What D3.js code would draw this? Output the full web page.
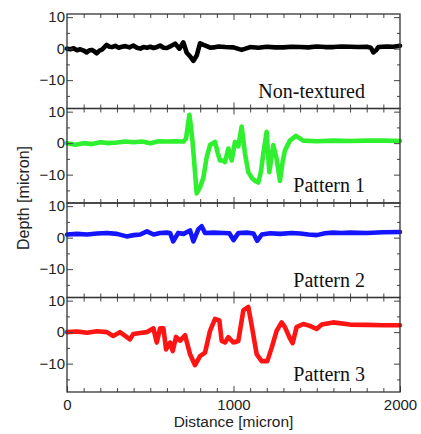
<!DOCTYPE html>
<html lang="en">
<head>
	<meta charset="UTF-8"/>
	<title>Depth profiles</title>
	<script src="https://d3js.org/d3.v7.min.js"></script>
	<style>
		body { margin: 0; background: #fff; }
		.tick text { font-family: "Liberation Sans", Arial, sans-serif; font-size: 15px; fill: #222; }
		.tick line { stroke: #444; }
	</style>
</head>
<body>
	<script>
		var w = 421;
		var h = 434;
		var left = 67, right = 400;
		var top0 = 14, panelH = 94.5;

		// profile data
		var nonTexturedX = [0,20,40,60,80,100,118,135,150,165,178,195,210,238,255,270,290,310,330,350,375,398,420,440,460,480,500,520,540,559,580,600,620,649,675,699,719,740,759,779,799,820,839,860,880,910,950,1000,1049,1100,1150,1200,1250,1300,1350,1400,1450,1500,1550,1600,1650,1700,1750,1800,1825,1840,1855,1870,1920,1960,2000];
		var nonTexturedY = [0,-0.2,0.1,-0.5,-0.2,-0.6,-1.2,-0.5,-0.4,-0.9,-1.5,-0.6,-0.3,1.2,0.6,0.5,0.9,0.3,0.6,0.8,0.4,1,0.3,0,0.5,0.3,0.6,0.2,0.5,1,0.3,0.2,0.7,1.6,0,2,-1.3,-2.5,-3.9,-2.2,1.7,1.2,0.8,0.3,0.4,0.7,0.5,0.4,-0.4,0.5,0.3,0.6,0.4,0.4,0.6,0.5,0.4,0.7,0.5,0.5,0.7,0.6,0.5,0.6,0.3,-1.2,-0.6,0.5,0.7,0.6,0.9];

		var pattern1X = [0,50,100,150,200,250,300,350,400,450,500,550,600,650,700,715,735,745,755,767,779,799,819,839,859,889,905,919,935,949,969,989,1009,1029,1049,1069,1089,1110,1129,1149,1165,1179,1199,1215,1239,1259,1279,1295,1309,1339,1375,1419,1500,1600,1700,1800,1900,2000];
		var pattern1Y = [0,-0.5,0,-0.3,0.3,0,0.2,0.5,0.3,0.5,0,0.6,0.5,0.6,0.5,1.5,9,5,0,-8,-16,-14,-11,-4.4,-0.6,0.4,-3,-5.5,-5.5,-6,-1.7,-5.5,0.4,-1,5.3,-3.3,-9.2,-11,-12,-12.5,-9,-3.3,3.6,-9.2,-0.6,-5,-12,-6,-2.3,0.8,2.3,0.8,0.6,0.8,0.7,0.8,0.8,0.7];

		var pattern2X = [0,60,120,180,240,300,358,400,440,480,520,560,600,619,638,668,700,739,759,789,809,829,880,940,975,1000,1030,1080,1120,1142,1170,1220,1280,1350,1400,1450,1500,1550,1598,1650,1700,1800,1900,2000];
		var pattern2Y = [1,1.2,1,1.3,1.5,1.2,0.4,0.8,1,2,1,1.5,1.6,1.5,-1.2,1.5,1.2,2.3,-1.2,2.7,3.6,1.5,1.6,1.5,1.4,-0.8,1.5,1.6,1.3,-1,1,1.4,1.2,1.5,1.3,1,0.8,1.4,1.6,1.5,1.6,1.5,1.7,1.8];

		var pattern3X = [0,60,120,180,240,277,318,378,398,440,479,519,539,559,579,595,619,635,655,679,709,739,769,799,829,859,889,915,929,949,969,999,1029,1059,1089,1115,1139,1169,1203,1229,1259,1289,1309,1339,1355,1379,1419,1459,1499,1530,1598,1700,1800,1900,2000];
		var pattern3Y = [0,0.2,-0.2,0.3,0,-1.2,0,-2.3,-0.6,-0.3,0,1.2,-3.3,1.2,1.2,-5.5,-3.3,-6,-1.5,-2.7,-1,-7,-10.5,-7.6,-6.5,0.4,4.2,3.7,-2.8,-3.3,-1.6,-3.3,-2.8,6.9,8,0.4,-7,-9.2,-9.2,-5,0.4,3.1,1.6,-2,-3.5,1.6,2.6,2,1,2.4,3.1,2.4,2.3,2.2,2.2];

		var panelNames = ["Non-textured", "Pattern 1", "Pattern 2", "Pattern 3"];
		var panelColors = ["#000000", "#2ef02e", "#1414ff", "#ff1414"];
		var yMajorTicks = [-10, 0, 10];
		var yMinorTicks = [-15, -5, 5];
		var xMajorTicks = [0, 1000, 2000];

		var panels = [
			{ xs: nonTexturedX, ys: nonTexturedY },
			{ xs: pattern1X, ys: pattern1Y },
			{ xs: pattern2X, ys: pattern2Y },
			{ xs: pattern3X, ys: pattern3Y }
		];

		var xScale = d3.scaleLinear().domain([0, 2000]).range([left, right]);
		var xMinor = d3.range(100, 2000, 100).filter(function(d) { return d !== 1000; });

		var svg = d3.select("body").append("svg")
			.attr("width", w)
			.attr("height", h);

		panels.forEach(function(p, i) {
			var pTop = top0 + i * panelH;
			var pBot = pTop + panelH;
			var yScale = d3.scaleLinear().domain([-19, 11]).range([pBot, pTop]);
			var g = svg.append("g");

			var pts = p.xs.map(function(x, k) { return [x, p.ys[k]]; });
			var line = d3.line()
				.x(function(d) { return xScale(d[0]); })
				.y(function(d) { return yScale(d[1]); });

			g.append("path")
				.datum(pts)
				.attr("d", line)
				.attr("fill", "none")
				.attr("stroke", panelColors[i])
				.attr("stroke-width", 4.6)
				.attr("stroke-linejoin", "round")
				.attr("stroke-linecap", "round");

			// y ticks, left (labels) and right
			g.append("g").attr("transform", "translate(" + left + ",0)")
				.call(d3.axisLeft(yScale).tickValues(yMajorTicks).tickSizeInner(-6).tickSizeOuter(0).tickPadding(2));
			g.append("g").attr("transform", "translate(" + left + ",0)")
				.call(d3.axisLeft(yScale).tickValues(yMinorTicks).tickSizeInner(-3).tickSizeOuter(0).tickFormat(""));
			g.append("g").attr("transform", "translate(" + right + ",0)")
				.call(d3.axisRight(yScale).tickValues(yMajorTicks).tickSizeInner(-6).tickSizeOuter(0).tickFormat(""));
			g.append("g").attr("transform", "translate(" + right + ",0)")
				.call(d3.axisRight(yScale).tickValues(yMinorTicks).tickSizeInner(-3).tickSizeOuter(0).tickFormat(""));

			// x ticks, top and bottom
			g.append("g").attr("transform", "translate(0," + pTop + ")")
				.call(d3.axisTop(xScale).tickValues(xMinor).tickSizeInner(-4).tickSizeOuter(0).tickFormat(""));
			g.append("g").attr("transform", "translate(0," + pTop + ")")
				.call(d3.axisTop(xScale).tickValues([1000]).tickSizeInner(-6).tickSizeOuter(0).tickFormat(""));
			g.append("g").attr("transform", "translate(0," + pBot + ")")
				.call(d3.axisBottom(xScale).tickValues(xMinor).tickSizeInner(-4).tickSizeOuter(0).tickFormat(""));
			g.append("g").attr("transform", "translate(0," + pBot + ")")
				.call(d3.axisBottom(xScale).tickValues(i === 3 ? xMajorTicks : [1000]).tickSizeInner(-6).tickSizeOuter(0).tickPadding(7)
					.tickFormat(i === 3 ? d3.format("d") : ""));

			g.selectAll(".domain").remove();

			g.append("rect")
				.attr("x", left)
				.attr("y", pTop)
				.attr("width", right - left)
				.attr("height", panelH)
				.attr("fill", "none")
				.attr("stroke", "#333")
				.attr("stroke-width", 1.3);

			g.append("text")
				.attr("x", 365)
				.attr("y", pBot - 11)
				.attr("text-anchor", "end")
				.attr("font-family", "'Liberation Serif', 'Times New Roman', serif")
				.attr("font-size", 20)
				.attr("fill", "#111")
				.text(panelNames[i]);
		});

		svg.append("text")
			.attr("x", (left + right) / 2)
			.attr("y", 427)
			.attr("text-anchor", "middle")
			.attr("font-family", "'Liberation Sans', Arial, sans-serif")
			.attr("font-size", 15.5)
			.attr("fill", "#222")
			.text("Distance [micron]");

		svg.append("text")
			.attr("transform", "translate(29,198) rotate(-90)")
			.attr("text-anchor", "middle")
			.attr("font-family", "'Liberation Sans', Arial, sans-serif")
			.attr("font-size", 16)
			.attr("fill", "#222")
			.text("Depth [micron]");
	</script>
</body>
</html>
